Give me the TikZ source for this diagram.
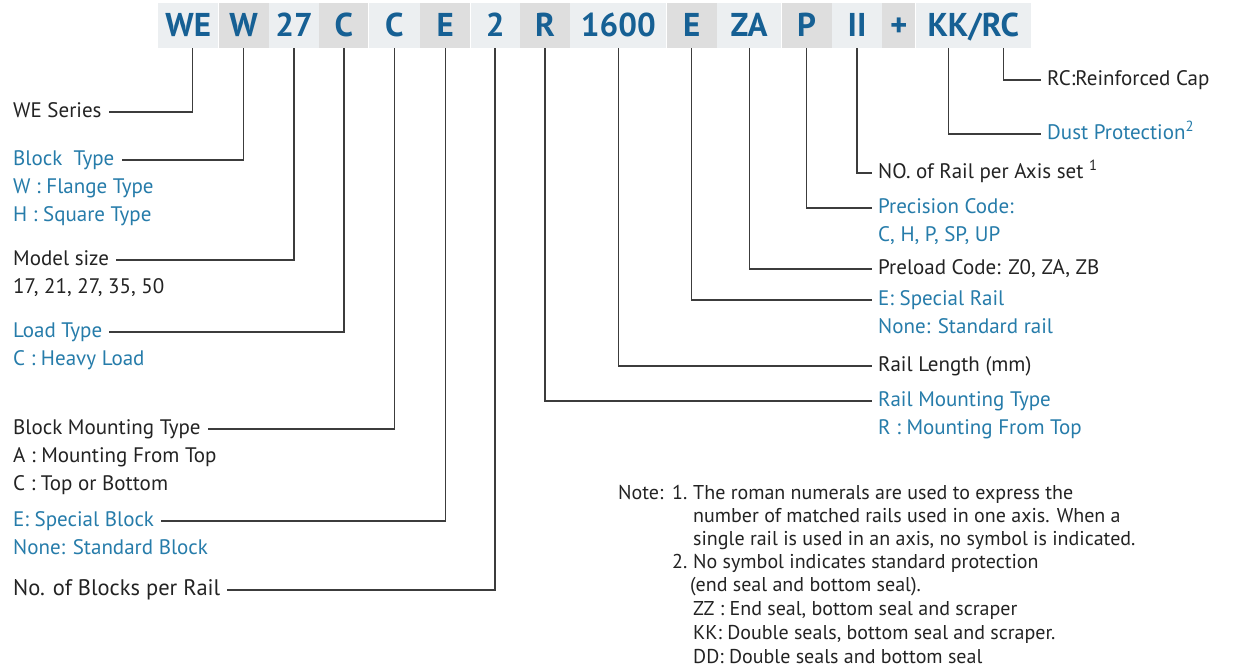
\documentclass[tikz,border=0pt]{standalone}
\usepackage{fontspec}
\setmainfont{PT Sans}
\usetikzlibrary{positioning}
\definecolor{codeblue}{RGB}{22,96,148}
\definecolor{lblblue}{RGB}{38,124,170}
\definecolor{txt}{RGB}{35,35,35}
\definecolor{leadgrey}{RGB}{60,60,60}
\definecolor{hdrlight}{RGB}{236,239,241}
\definecolor{hdrdark}{RGB}{222,222,222}
\tikzset{
  code/.style={anchor=west, inner sep=0pt, minimum height=45pt, text height=23pt, text depth=0pt,
    fill=hdrlight, text=codeblue, font=\bfseries\fontsize{33}{33}\selectfont},
  codedk/.style={code, fill=hdrdark},
  lbl/.style={anchor=west, inner sep=0pt, text height=15pt, text depth=4.5pt, text=txt,
    font=\fontsize{21}{21}\selectfont},
  lblb/.style={lbl, text=lblblue},
  sub/.style={below right=8pt and 0pt of #1.south west},
  lead/.style={draw=leadgrey, line width=1.3pt},
  note/.style={anchor=west, inner sep=0pt, text height=14pt, text depth=4pt, text=txt,
    font=\fontsize{20}{20}\selectfont},
}

\begin{document}
\begin{tikzpicture}[x=1pt, y=-1pt]

    \useasboundingbox (0,0) rectangle (1233,671);
    \fill[white] (0,0) rectangle (1233,671);

    % ordering code
    \node[code, minimum width=60pt] (cWE) at (158,25.5) {WE};
    \node[codedk, minimum width=50pt, right=0pt of cWE] (cW) {W};
    \node[code, minimum width=50pt, right=0pt of cW] (cSize) {27};
    \node[codedk, minimum width=49pt, right=0pt of cSize] (cLoad) {C};
    \node[code, minimum width=51pt, right=0pt of cLoad] (cMount) {C};
    \node[codedk, minimum width=50pt, right=0pt of cMount] (cSpBlk) {E};
    \node[code, minimum width=49pt, right=0pt of cSpBlk] (cNBlk) {2};
    \node[codedk, minimum width=50pt, right=0pt of cNBlk] (cRMount) {R};
    \node[code, minimum width=96pt, right=0pt of cRMount] (cLen) {1600};
    \node[codedk, minimum width=50pt, right=0pt of cLen] (cSpRail) {E};
    \node[code, minimum width=64pt, right=0pt of cSpRail] (cPre) {ZA};
    \node[codedk, minimum width=50pt, right=0pt of cPre] (cPrec) {P};
    \node[code, minimum width=50pt, right=0pt of cPrec] (cNRail) {II};
    \node[codedk, minimum width=33pt, right=0pt of cNRail] (cPlus) {+};
    \node[code, minimum width=115pt, right=0pt of cPlus] (cKKRC) {KK/RC};
    \coordinate (kkpt) at ([xshift=-24.5pt]cKKRC.south);
    \coordinate (rcpt) at ([xshift=30.5pt]cKKRC.south);
    \coordinate (wept) at ([xshift=4pt]cWE.south);

    % left side
    \node[lbl] (weser) at (13,112) {WE Series};
    \node[lblb] (blk) at (13,160) {Block\ \ Type};
    \node[lblb, sub=blk] (blkw) {W : Flange Type};
    \node[lblb, sub=blkw] (blkh) {H : Square Type};
    \node[lbl] (msize) at (13,260) {Model size};
    \node[lbl, sub=msize] (msizes) {17, 21, 27, 35, 50};
    \node[lblb] (load) at (13,332) {Load Type};
    \node[lblb, sub=load] (loadc) {C : Heavy Load};
    \node[lbl] (bmt) at (13,429) {Block Mounting Type};
    \node[lbl, sub=bmt] (bmta) {A : Mounting From Top};
    \node[lbl, sub=bmta] (bmtc) {C : Top or Bottom};
    \node[lblb] (spb) at (13,521) {E: Special Block};
    \node[lblb, sub=spb] (spbn) {None: Standard Block};
    \node[lbl, text height=16pt, font=\fontsize{22.5}{22.5}\selectfont] (nblk) at (13,590) {No. of Blocks per Rail};

    \draw[lead] (wept) |- ([xshift=7pt]weser.east);
    \draw[lead] (cW.south) |- ([xshift=7pt]blk.east);
    \draw[lead] (cSize.south) |- ([xshift=7pt]msize.east);
    \draw[lead] (cLoad.south) |- ([xshift=7pt]load.east);
    \draw[lead] (cMount.south) |- ([xshift=7pt]bmt.east);
    \draw[lead] (cSpBlk.south) |- ([xshift=7pt]spb.east);
    \draw[lead] (cNBlk.south) |- ([xshift=7pt]nblk.east);

    % right side
    \node[lbl] (rccap) at (1047,80) {RC:Reinforced Cap};
    \node[lblb] (dust) at (1047,134) {Dust Protection\textsuperscript{2}};
    \node[lbl] (nrail) at (878,173) {NO. of Rail per Axis set \textsuperscript{1}};
    \node[lblb] (prec) at (878,208) {Precision Code:};
    \node[lblb, sub=prec] (precc) {C, H, P, SP, UP};
    \node[lbl] (preload) at (878,269) {Preload Code: Z0, ZA, ZB};
    \node[lblb] (sprail) at (878,300) {E: Special Rail};
    \node[lblb, sub=sprail] (spraild) {None: Standard rail};
    \node[lbl] (rlen) at (878,366) {Rail Length (mm)};
    \node[lblb] (rmt) at (878,401) {Rail Mounting Type};
    \node[lblb, sub=rmt] (rmtr) {R : Mounting From Top};

    \draw[lead] (rcpt) |- ([xshift=-6pt]rccap.west);
    \draw[lead] (kkpt) |- ([xshift=-6pt]dust.west);
    \draw[lead] (cNRail.south) |- ([xshift=-6pt]nrail.west);
    \draw[lead] (cPrec.south) |- ([xshift=-6pt]prec.west);
    \draw[lead] (cPre.south) |- ([xshift=-6pt]preload.west);
    \draw[lead] (cSpRail.south) |- ([xshift=-6pt]sprail.west);
    \draw[lead] (cLen.south) |- ([xshift=-6pt]rlen.west);
    \draw[lead] (cRMount.south) |- ([xshift=-6pt]rmt.west);

    % notes
    \node[note] (notehd) at (618,494) {Note:};
    \node[note] (noteone) at (672,494) {1.};
    \node[note] (nl1) at (693,494) {The roman numerals are used to express the};
    \node[note] (nl2) at (693,517) {number of matched rails used in one axis. When a};
    \node[note] (nl3) at (693,540) {single rail is used in an axis, no symbol is indicated.};
    \node[note] (notetwo) at (672,563) {2.};
    \node[note] (nl4) at (693,563) {No symbol indicates standard protection};
    \node[note] (nl5) at (690,586) {(end seal and bottom seal).};
    \node[note] (nl6) at (693,610) {ZZ : End seal, bottom seal and scraper};
    \node[note] (nl7) at (693,634) {KK: Double seals, bottom seal and scraper.};
    \node[note] (nl8) at (693,658) {DD: Double seals and bottom seal};

\end{tikzpicture}
\end{document}
